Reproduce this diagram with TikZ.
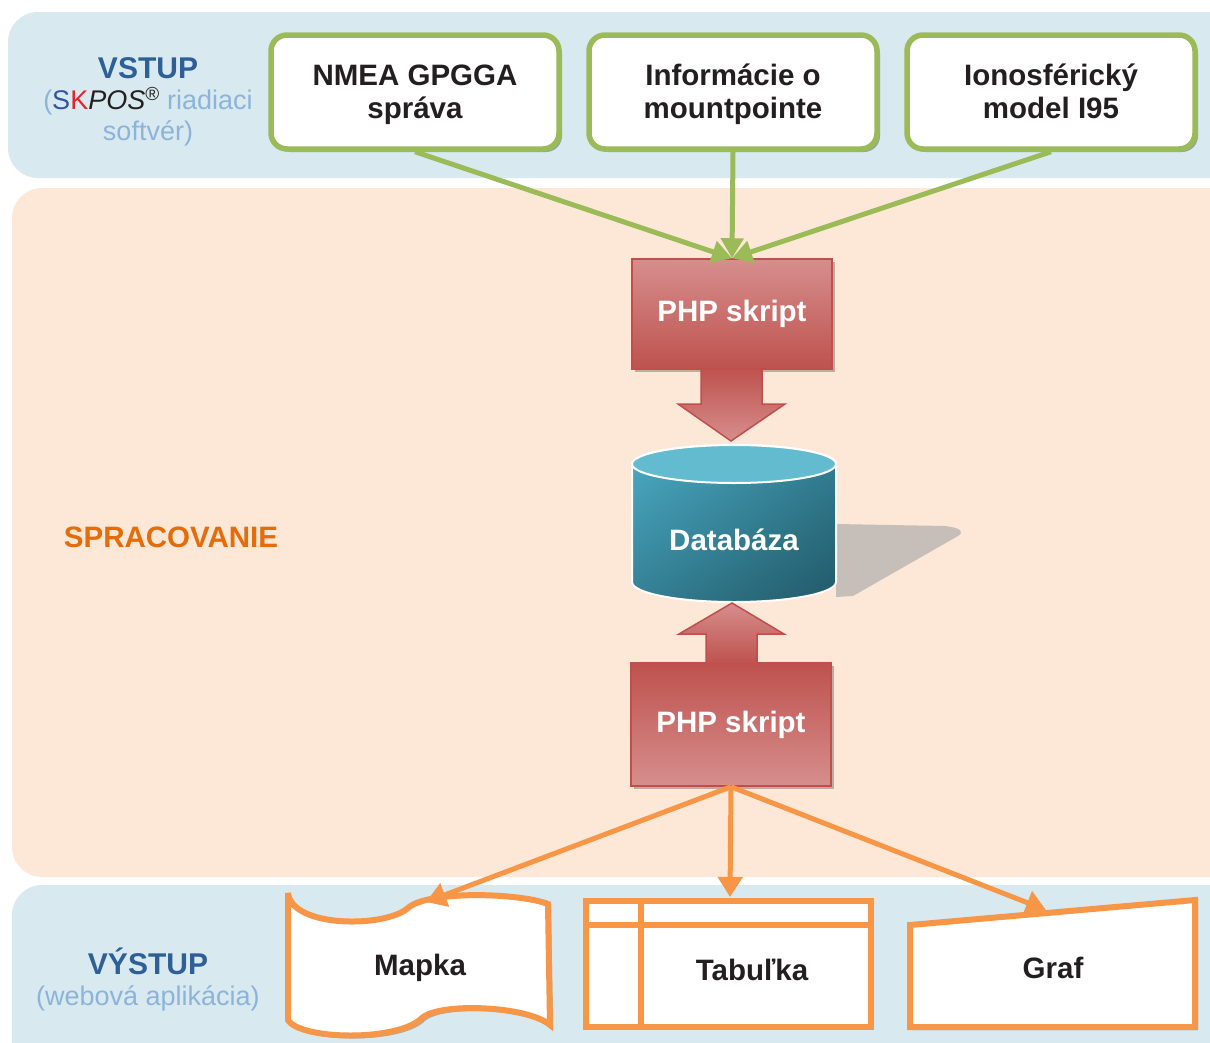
\documentclass[tikz,border=0pt]{standalone}
\usepackage{fontspec}
\setmainfont{Liberation Sans}
\usetikzlibrary{arrows.meta,shadows,shadings}

\definecolor{bandblue}{RGB}{216,234,239}
\definecolor{bandpeach}{RGB}{253,232,215}
\definecolor{titleblue}{RGB}{46,95,150}
\definecolor{subblue}{RGB}{141,179,219}
\definecolor{skblue}{RGB}{47,85,160}
\definecolor{skred}{RGB}{230,35,40}
\definecolor{boxgreen}{RGB}{155,187,89}
\definecolor{outorange}{RGB}{247,150,70}
\definecolor{procorange}{RGB}{228,108,10}
\definecolor{phplight}{RGB}{214,142,141}
\definecolor{phpdark}{RGB}{190,82,78}
\definecolor{phpline}{RGB}{192,78,75}
\definecolor{dblight}{RGB}{75,172,198}
\definecolor{dbmid}{RGB}{52,128,148}
\definecolor{dbdark}{RGB}{33,89,104}
\definecolor{dbtop}{RGB}{99,187,207}
\definecolor{dbshadow}{RGB}{198,190,184}
\definecolor{textdark}{RGB}{35,31,32}

\tikzset{
  bigfont/.style={font=\fontsize{29.5}{33}\selectfont\bfseries},
  inbox/.style={bigfont, draw=boxgreen, line width=5.5pt, fill=white, rounded corners=16pt,
    minimum width=288pt, minimum height=114pt, align=center, text=textdark,
    drop shadow={shadow xshift=3pt, shadow yshift=-3pt, opacity=.3, fill=black}},
  phpbox/.style={bigfont, draw=phpline, line width=1.5pt, minimum width=200pt,
    minimum height=110pt, text=white,
    drop shadow={shadow xshift=3pt, shadow yshift=-3pt, opacity=.25, fill=black}},
  inarrow/.style={draw=boxgreen, line width=5pt, -{Triangle[length=20pt,width=22pt]}},
  outarrow/.style={draw=outorange, line width=5pt, -{Triangle[length=20pt,width=24pt]}},
  outshape/.style={draw=outorange, line width=6pt, fill=white, line join=miter,
    drop shadow={shadow xshift=3pt, shadow yshift=-3pt, opacity=.25, fill=black}},
  bandtitle/.style={align=center, font=\fontsize{27}{31}\selectfont, text=subblue},
  outtext/.style={bigfont, text=textdark}
}
\newcommand{\boxlines}[3]{\raisebox{-#1}[\height][\depth]{\begin{tabular}{@{}c@{}}#2\\#3\end{tabular}}}

\begin{document}
\begin{tikzpicture}[x=1pt,y=-1pt]
\useasboundingbox (0,0) rectangle (1210,1042);
\clip (0,0) rectangle (1210,1042);
\fill[white] (0,0) rectangle (1210,1042);

%% three bands: input, processing, output
\fill[bandblue, rounded corners=30pt] (8,12) rectangle (1240,178);
\fill[bandpeach, rounded corners=30pt] (12,188) rectangle (1240,877);
\fill[bandblue, rounded corners=30pt] (12,885) rectangle (1240,1080);

%% band titles
\node[bandtitle] (vstup) at (148,102) {{\fontsize{30}{31}\selectfont\bfseries\color{titleblue}VSTUP}\\
  (\textcolor{skblue}{S}\textcolor{skred}{K}\textcolor{textdark}{\textit{POS}\textsuperscript{®}} riadiaci\\ softvér)};
\node[font=\fontsize{29.5}{33}\selectfont\bfseries, text=procorange] (sprac) at (171,537) {SPRACOVANIE};
\node[bandtitle] (vystup) at (148,979) {{\fontsize{30}{31}\selectfont\bfseries\color{titleblue}VÝSTUP}\\
  (webová aplikácia)};

%% input boxes
\node[inbox] (nmea) at (415,92) {\boxlines{3pt}{NMEA GPGGA}{správa}};
\node[inbox] (mount) at (733,92) {\boxlines{3pt}{Informácie o}{mountpointe}};
\node[inbox] (iono) at (1051,92) {\boxlines{3pt}{Ionosférický}{model I95}};

%% database shadow and cylinder
\fill[dbshadow] (836,524) -- (945,526) .. controls (962,528) and (964,532) .. (958,536) -- (853,596) -- (836,597) -- cycle;
\shade[upper left=dblight, upper right=dbmid, lower left=dbmid, lower right=dbdark, draw=white, line width=2pt]
  (632,464) -- (632,582) arc[start angle=180, end angle=360, x radius=102pt, y radius=20pt]
  -- (836,464) arc[start angle=0, end angle=180, x radius=102pt, y radius=19pt] -- cycle;
\draw[fill=dbtop, draw=white, line width=2pt] (734,464) ellipse [x radius=102pt, y radius=19pt];
\node[bigfont, text=white] (db) at (734,540) {Databáza};

%% PHP scripts with block arrows
\node[phpbox, top color=phplight, bottom color=phpdark] (php1) at (732,314) {PHP skript};
\draw[phpline, line width=1.5pt, top color=phpdark, bottom color=phplight]
  (701,368.5) -- (701,404) -- (678,404) -- (731,441) -- (785,404) -- (762,404) -- (762,368.5);
\node[phpbox, minimum height=123pt, top color=phpdark, bottom color=phplight] (php2) at (731,724.5) {PHP skript};
\draw[phpline, line width=1.5pt, top color=phplight, bottom color=phpdark]
  (706,663.5) -- (706,634) -- (679,634) -- (732,603) -- (784,634) -- (757,634) -- (757,663.5);

%% input arrows
\draw[inarrow] (nmea.south) -- (php1.north);
\draw[inarrow] (mount.south) -- (php1.north);
\draw[inarrow] (iono.south) -- (php1.north);

%% output shapes
\draw[outshape] (288,893) .. controls (292,928) and (385,928) .. (408,908)
  .. controls (428,890) and (520,893) .. (548,904) -- (550,1025)
  .. controls (528,1006) and (440,1002) .. (422,1018)
  .. controls (398,1042) and (300,1040) .. (288,1020) -- cycle;
\draw[outshape] (586,901) rectangle (871,1027);
\draw[draw=outorange, line width=6pt] (586,925) -- (871,925) (641,901) -- (641,1027);
\draw[outshape] (910,925) -- (1195,900) -- (1195,1027) -- (910,1027) -- cycle;

\node[outtext] (mapka) at (420,968) {Mapka};
\node[outtext] (tab) at (752,970) {Tabuľka};
\node[outtext] (graf) at (1053,968) {Graf};

\coordinate (mapin) at (426,902);
\coordinate (tabin) at (730,897);
\coordinate (grafin) at (1046,910);

%% output arrows
\draw[outarrow] (php2.south) -- (mapin);
\draw[outarrow] (php2.south) -- (tabin);
\draw[outarrow] (php2.south) -- (grafin);
\end{tikzpicture}
\end{document}
